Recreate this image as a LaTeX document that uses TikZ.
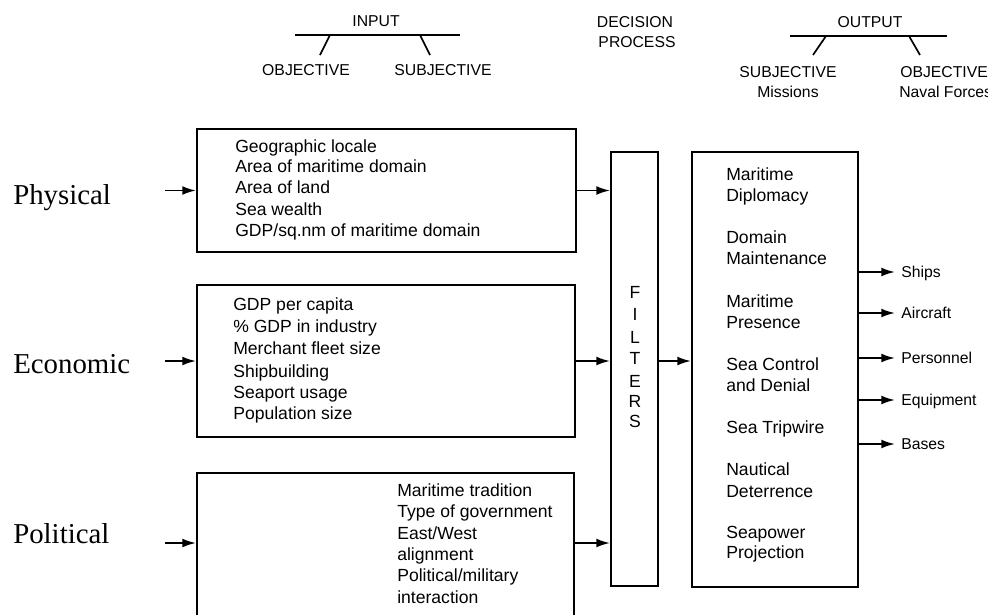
\documentclass[tikz,border=0pt]{standalone}
\usepackage{fontspec}
\setmainfont{Liberation Sans}
\newfontfamily\labelfont{Liberation Serif}
\usetikzlibrary{arrows.meta,positioning}

\begin{document}
\begin{tikzpicture}[x=0.025cm, y=-0.025cm,
  item/.style = {font = \fontsize{12.5}{14}\selectfont, anchor = west, inner sep = 0pt, text height = 8pt, text depth = 0pt},
  head/.style = {font = \fontsize{11.2}{13}\selectfont, inner sep = 0pt, text height = 8pt, text depth = 0pt},
  side/.style = {font = \labelfont\fontsize{20.5}{24}\selectfont, anchor = base west, inner sep = 0pt},
  box/.style  = {draw, line width = 1.4pt, inner sep = 0pt},
  arr/.style  = {line width = 1.3pt, -{Latex[length = 3.4mm, width = 2.2mm]}}]
\useasboundingbox (0,0) rectangle (988,614);

% headings
\node[head] (input) at (376,21) {INPUT};
\node[head] (inobj) at (306,70) {OBJECTIVE};
\node[head] (insub) at (443,70) {SUBJECTIVE};
\draw[line width = 1.2pt] (295,35) -- (460,35);
\draw[line width = 1.2pt] (330,35) -- (320,55);
\draw[line width = 1.2pt] (420,35) -- (430,55);

\node[head] (decide) at (635,22) {DECISION};
\node[head] (process) at (637,42) {PROCESS};

\node[head] (output) at (870,22) {OUTPUT};
\node[head] (outsub) at (788,72) {SUBJECTIVE};
\node[head] (outmis) at (788,92) {Missions};
\node[head, anchor = west] (outobj) at (900,72) {OBJECTIVE};
\node[head, anchor = west] (outnav) at (899,92) {Naval Forces};
\draw[line width = 1.2pt] (790,36) -- (947,36);
\draw[line width = 1.2pt] (826,36) -- (813,55);
\draw[line width = 1.2pt] (909,36) -- (920,55);

% input boxes
\node[box, minimum width = 9.475cm, minimum height = 3.075cm] (phys) at (386.5,190.5) {};
\node[box, minimum width = 9.45cm, minimum height = 3.8cm] (econ) at (386,361) {};
\node[box, minimum width = 9.425cm, minimum height = 4.175cm] (pol) at (385.5,556.5) {};

\foreach \y/\t [count = \i] in {147/Geographic locale, 167/Area of maritime domain, 188/Area of land,
    210/Sea wealth, 231/{GDP/sq.nm of maritime domain}}
  \node[item] (phys-\i) at (235,\y) {\t};
\foreach \y/\t [count = \i] in {305/GDP per capita, 327/\% GDP in industry, 349/Merchant fleet size,
    372/Shipbuilding, 393/Seaport usage, 414/Population size}
  \node[item] (econ-\i) at (233,\y) {\t};
\foreach \y/\t [count = \i] in {491/Maritime tradition, 512/Type of government, 534/{East/West},
    555/alignment, 576/{Political/military}, 598/interaction}
  \node[item] (pol-\i) at (397,\y) {\t};

\node[side] (lphys) at (13,204) {Physical};
\node[side] (lecon) at (13,373) {Economic};
\node[side] (lpol) at (13,543) {Political};

\coordinate (inphys) at (165,190.5);
\coordinate (inecon) at (165,361);
\coordinate (inpol) at (165,543);
\draw[arr] (inphys) -- (inphys -| phys.west);
\draw[arr] (inecon) -- (inecon -| econ.west);
\draw[arr] (inpol) -- (inpol -| pol.west);

% filters
\node[box, minimum width = 1.175cm, minimum height = 10.85cm] (filt) at (634.5,369) {};
\foreach \y/\t [count = \i] in {293/F, 315/I, 338/L, 359/T, 382/E, 402/R, 422/S}
  \node[item, anchor = center] (filt-\i) at (635,\y) {\t};

\draw[arr] (phys.east) -- (phys.east -| filt.west);
\draw[arr] (econ.east) -- (econ.east -| filt.west);
\draw[arr] (inpol -| pol.east) -- (inpol -| filt.west);

% missions
\node[box, minimum width = 4.15cm, minimum height = 10.875cm] (miss) at (775,369.5) {};
\foreach \y/\t [count = \i] in {175/Maritime, 196/Diplomacy, 238/Domain, 259/Maintenance,
    302/Maritime, 323/Presence, 365/Sea Control, 386/and Denial, 428/Sea Tripwire,
    470/Nautical, 492/Deterrence, 533/Seapower, 553/Projection}
  \node[item] (miss-\i) at (726,\y) {\t};

\draw[arr] (filt.east |- econ.east) -- (econ.east -| miss.west);

% naval forces
\node[head, anchor = west] (ships) at (901,272) {Ships};
\node[head, anchor = west] (aircraft) at (901,313) {Aircraft};
\node[head, anchor = west] (personnel) at (901,358) {Personnel};
\node[head, anchor = west] (equipment) at (901,400) {Equipment};
\node[head, anchor = west] (bases) at (901,444) {Bases};
\foreach \n in {ships, aircraft, personnel, equipment, bases}
  \draw[arr] (\n.west -| miss.east) -- ([xshift = -0.15cm]\n.west);
\end{tikzpicture}
\end{document}
